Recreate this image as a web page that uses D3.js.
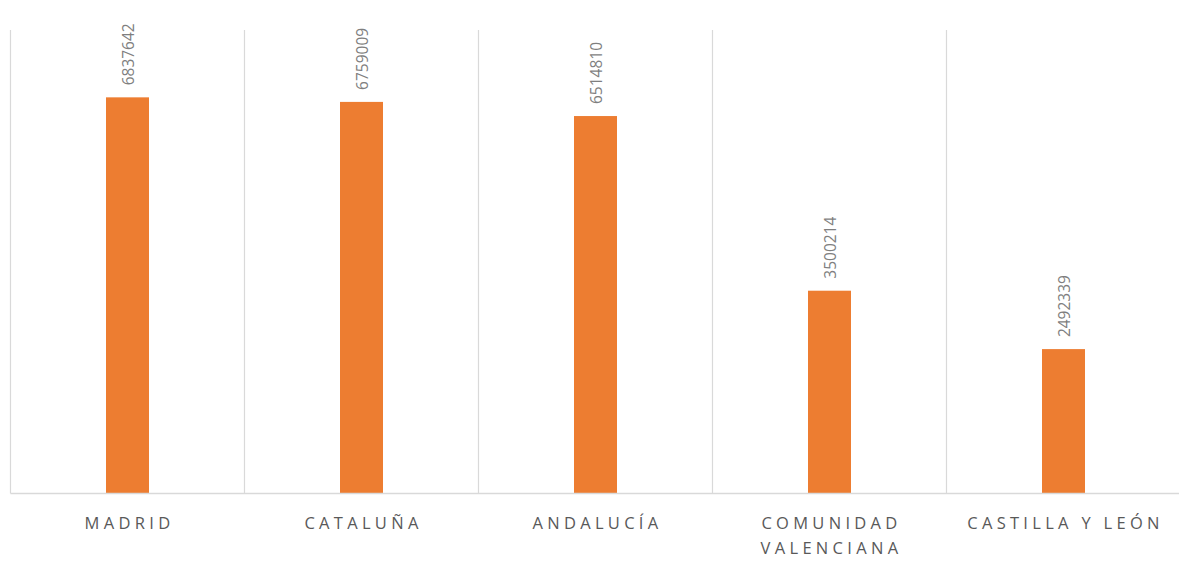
<!DOCTYPE html>
<html>
<head>
<meta charset="utf-8">
<script src="https://cdn.jsdelivr.net/npm/d3@7"></script>
<style>
  body { margin: 0; background: #fff; }
  svg { display: block; }
</style>
</head>
<body>
<div class="myBox"></div>
<script>
var width = 1179;
var height = 561;

var categories = [["MADRID"], ["CATALUÑA"], ["ANDALUCÍA"], ["COMUNIDAD", "VALENCIANA"], ["CASTILLA Y LEÓN"]];
var values = [6837642, 6759009, 6514810, 3500214, 2492339];
var yMax = 8000000;

var svg = d3.select(".myBox")
  .append("svg")
  .attr("width", width)
  .attr("height", height);

var plotLeft = 10.5, plotRight = 1180.5, plotTop = 30, plotBottom = 493.5;

var x = d3.scaleBand()
  .domain(d3.range(values.length))
  .range([plotLeft, plotRight])
  .paddingInner(0)
  .paddingOuter(0);

var y = d3.scaleLinear()
  .domain([0, yMax])
  .range([plotBottom, plotTop]);

// vertical gridlines between categories
var gridX = d3.range(values.length + 1).map(function(i) { return plotLeft + i * x.bandwidth(); });
svg.selectAll("line.grid")
  .data(gridX)
  .enter().append("line")
    .attr("class", "grid")
    .attr("x1", function(d) { return d; })
    .attr("x2", function(d) { return d; })
    .attr("y1", plotTop)
    .attr("y2", plotBottom)
    .style("stroke", "#d9d9d9")
    .style("stroke-width", 1.2);

var barW = 43;
svg.selectAll("rect.bar")
  .data(values)
  .enter().append("rect")
    .attr("class", "bar")
    .attr("x", function(d, i) { return x(i) + x.bandwidth() / 2 - barW / 2; })
    .attr("y", function(d) { return y(d); })
    .attr("width", barW)
    .attr("height", function(d) { return plotBottom - y(d); })
    .style("fill", "#ed7d31");

// baseline
svg.append("line")
  .attr("x1", plotLeft).attr("x2", plotRight)
  .attr("y1", plotBottom).attr("y2", plotBottom)
  .style("stroke", "#d9d9d9")
  .style("stroke-width", 1.5);

// value labels, rotated
svg.selectAll("text.value")
  .data(values)
  .enter().append("text")
    .attr("class", "value")
    .attr("transform", function(d, i) {
      return "translate(" + (x(i) + x.bandwidth() / 2 + 6) + "," + (y(d) - 12) + ") rotate(-90)";
    })
    .style("font-family", "'Open Sans', sans-serif")
    .style("font-size", "15.5px")
    .style("fill", "#7f7f7f")
    .text(function(d) { return d; });

// category labels
var cat = svg.selectAll("text.cat")
  .data(categories)
  .enter().append("text")
    .attr("class", "cat")
    .attr("text-anchor", "middle")
    .style("font-family", "'Open Sans', sans-serif")
    .style("font-size", "16.5px")
    .style("letter-spacing", "4.3px")
    .style("fill", "#595959");

cat.selectAll("tspan")
  .data(function(d, i) { return d.map(function(t) { return { t: t, i: i }; }); })
  .enter().append("tspan")
    .attr("x", function(d) { return x(d.i) + x.bandwidth() / 2 + 2; })
    .attr("y", function(d, j) { return 529 + j * 25; })
    .text(function(d) { return d.t; });
</script>
</body>
</html>
